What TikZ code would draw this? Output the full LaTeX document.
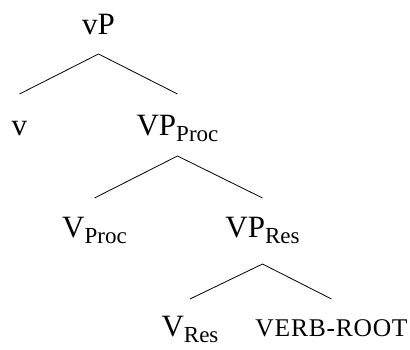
\documentclass[tikz,border=0pt]{standalone}
\usepackage{fontspec}
\setmainfont{Liberation Serif}
\newfontfamily\rootfont[LetterSpace=3]{Liberation Serif}
\newcommand{\sbs}[1]{\raisebox{-6pt}{\fontsize{23}{23}\selectfont #1}}
\begin{document}
\begin{tikzpicture}[x=1pt,y=1pt,
  lbl/.style={anchor=base,inner sep=0pt,font=\fontsize{31}{31}\selectfont},
  branch/.style={line width=0.8pt}]
\useasboundingbox (0,0) rectangle (410,350);
\node[lbl] (vP) at (98.5,315) {vP};
\node[lbl] (v) at (19.5,214) {v};
\node[lbl] (VPp) at (177.5,214) {VP\sbs{Proc}};
\node[lbl] (Vp) at (94.5,112) {V\sbs{Proc}};
\node[lbl] (VPr) at (262.5,112) {VP\sbs{Res}};
\node[lbl] (Vr) at (190,13) {V\sbs{Res}};
\node[lbl] (root) at (331.5,13) {\rootfont\fontsize{25.5}{25.5}\selectfont VERB-ROOT};
\draw[branch] ([yshift=-19pt]vP.base) -- ([yshift=42pt]v.base);
\draw[branch] ([yshift=-19pt]vP.base) -- ([yshift=42pt]VPp.base);
\draw[branch] ([yshift=-20pt]VPp.base) -- ([yshift=40pt]Vp.base);
\draw[branch] ([yshift=-20pt]VPp.base) -- ([yshift=40pt]VPr.base);
\draw[branch] ([yshift=-26pt]VPr.base) -- ([yshift=38pt]Vr.base);
\draw[branch] ([yshift=-26pt]VPr.base) -- ([yshift=38pt]root.base);
\end{tikzpicture}
\end{document}
